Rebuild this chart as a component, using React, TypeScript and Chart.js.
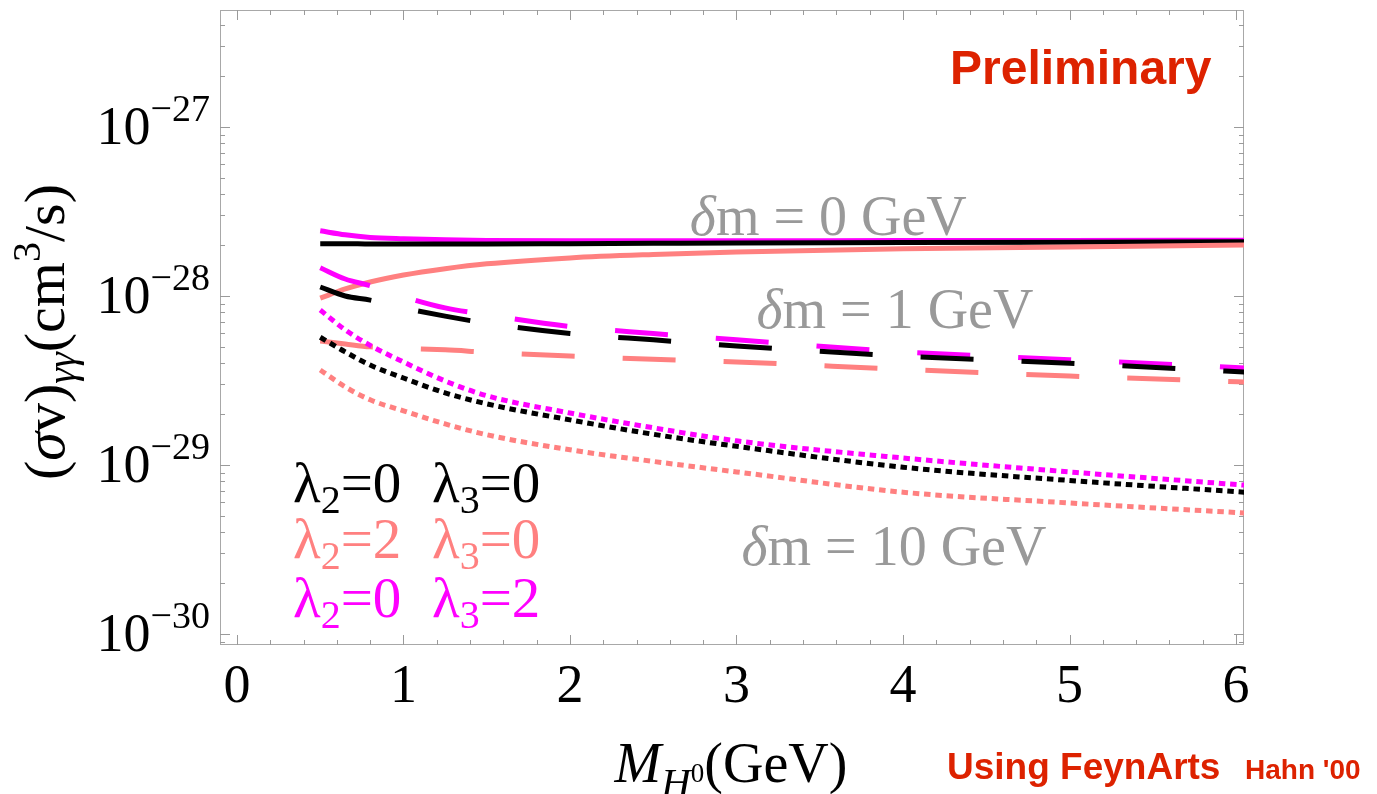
import React, { useEffect, useRef } from "react";
import { Chart, registerables } from "chart.js";
Chart.register(...registerables);

// ---------- data ----------
const massGeV = [0.5, 0.65, 0.8, 1.0, 1.25, 1.5, 2.0, 2.5, 3.0, 4.0, 5.0, 6.05];

// δm = 0 GeV (solid)
const solidL00 = [2.04e-28, 2.04e-28, 2.03e-28, 2.03e-28, 2.03e-28, 2.03e-28, 2.04e-28, 2.05e-28, 2.06e-28, 2.07e-28, 2.08e-28, 2.09e-28];
const solidL20 = [0.97e-28, 1.1e-28, 1.21e-28, 1.33e-28, 1.45e-28, 1.55e-28, 1.68e-28, 1.76e-28, 1.82e-28, 1.9e-28, 1.95e-28, 2.0e-28];
const solidL32 = [2.43e-28, 2.3e-28, 2.22e-28, 2.18e-28, 2.15e-28, 2.13e-28, 2.12e-28, 2.12e-28, 2.12e-28, 2.13e-28, 2.13e-28, 2.14e-28];

// δm = 1 GeV (dashed)
const dashL00 = [1.13e-28, 1.0e-28, 9.45e-29, 8.5e-29, 7.6e-29, 6.9e-29, 6.0e-29, 5.5e-29, 5.06e-29, 4.41e-29, 4.0e-29, 3.55e-29];
const dashL20 = [5.42e-29, 5.2e-29, 5.0e-29, 4.9e-29, 4.8e-29, 4.65e-29, 4.41e-29, 4.22e-29, 4.07e-29, 3.68e-29, 3.36e-29, 3.1e-29];
const dashL32 = [1.47e-28, 1.26e-28, 1.15e-28, 9.9e-29, 8.5e-29, 7.75e-29, 6.6e-29, 6.0e-29, 5.5e-29, 4.67e-29, 4.2e-29, 3.75e-29];

// δm = 10 GeV (dotted)
const dotL00 = [5.7e-29, 4.67e-29, 3.9e-29, 3.27e-29, 2.67e-29, 2.3e-29, 1.85e-29, 1.52e-29, 1.29e-29, 9.7e-30, 8.1e-30, 6.9e-30];
const dotL20 = [3.65e-29, 2.9e-29, 2.43e-29, 2.09e-29, 1.75e-29, 1.51e-29, 1.23e-29, 1.05e-29, 9.1e-30, 6.9e-30, 5.96e-30, 5.2e-30];
const dotL32 = [8.26e-29, 6.3e-29, 5.1e-29, 4.07e-29, 3.14e-29, 2.57e-29, 2.03e-29, 1.66e-29, 1.39e-29, 1.1e-29, 9.1e-30, 7.6e-30];

const xTickLabels = ["0", "1", "2", "3", "4", "5", "6"];
const yTickExponents = [-30, -29, -28, -27];

const deltaLabels = ["δm = 0 GeV", "δm = 1 GeV", "δm = 10 GeV"];
const deltaLabelX = [2.72, 3.12, 3.03];
const deltaLabelY = [2.3e-28, 6.47e-29, 2.56e-30];

const legendL2 = ["0", "2", "0"];
const legendL3 = ["0", "0", "2"];

const BLACK = "#000000";
const SALMON = "#FF8080";
const MAGENTA = "#FF00FF";
const legendColors = [BLACK, SALMON, MAGENTA];

const SERIF = '"Liberation Serif", "DejaVu Serif", serif';
const SANS = '"Liberation Sans", Arial, sans-serif';

type Part = { t: string; size: number; italic?: boolean; dy?: number };

function setFont(ctx: CanvasRenderingContext2D, p: Part) {
  ctx.font = `${p.italic ? "italic " : ""}${p.size}px ${SERIF}`;
}
function richWidth(ctx: CanvasRenderingContext2D, parts: Part[]) {
  let w = 0;
  for (const p of parts) {
    setFont(ctx, p);
    w += ctx.measureText(p.t).width;
  }
  return w;
}
function drawRich(ctx: CanvasRenderingContext2D, parts: Part[], x: number, y: number, align: "left" | "center" | "right") {
  const w = richWidth(ctx, parts);
  let cx = align === "left" ? x : align === "center" ? x - w / 2 : x - w;
  ctx.textAlign = "left";
  ctx.textBaseline = "alphabetic";
  for (const p of parts) {
    setFont(ctx, p);
    ctx.fillText(p.t, cx, y + (p.dy || 0));
    cx += ctx.measureText(p.t).width;
  }
}

const framePlugin = {
  id: "mmaFrame",
  beforeDatasetsDraw(chart: any) {
    const { ctx, chartArea: a, scales } = chart;
    const xs = scales.x;
    const ys = scales.y;
    ctx.save();
    ctx.strokeStyle = "#a8a8a8";
    ctx.lineWidth = 1;
    ctx.strokeRect(a.left + 0.5, a.top + 0.5, a.right - a.left - 1, a.bottom - a.top - 1);
    ctx.strokeStyle = "#9a9a9a";
    // x ticks
    for (let i = 0; i <= 30; i++) {
      const v = i * 0.2;
      if (v < xs.min || v > xs.max) continue;
      const px = Math.round(xs.getPixelForValue(v)) + 0.5;
      const len = i % 5 === 0 ? 10 : 5;
      ctx.beginPath();
      ctx.moveTo(px, a.bottom);
      ctx.lineTo(px, a.bottom - len);
      ctx.moveTo(px, a.top);
      ctx.lineTo(px, a.top + len);
      ctx.stroke();
    }
    // y ticks
    for (let d = -31; d <= -26; d++) {
      for (let m = 1; m <= 9; m++) {
        const v = m * Math.pow(10, d);
        if (v < ys.min || v > ys.max) continue;
        const py = Math.round(ys.getPixelForValue(v)) + 0.5;
        const len = m === 1 ? 10 : 5;
        ctx.beginPath();
        ctx.moveTo(a.left, py);
        ctx.lineTo(a.left + len, py);
        ctx.moveTo(a.right, py);
        ctx.lineTo(a.right - len, py);
        ctx.stroke();
      }
    }
    ctx.restore();
  },
  afterDraw(chart: any) {
    const { ctx, chartArea: a, scales } = chart;
    const xs = scales.x;
    const ys = scales.y;
    ctx.save();
    ctx.fillStyle = "#000";
    // x tick labels
    xTickLabels.forEach((lab, i) => {
      const px = xs.getPixelForValue(i);
      drawRich(ctx, [{ t: lab, size: 54 }], px, a.bottom + 57, "center");
    });
    // y tick labels
    yTickExponents.forEach((e) => {
      const py = ys.getPixelForValue(Math.pow(10, e));
      drawRich(
        ctx,
        [
          { t: "10", size: 54, dy: 17 },
          { t: "\u2212" + String(-e), size: 38, dy: -6 },
        ],
        210,
        py,
        "right"
      );
    });
    // x title
    drawRich(
      ctx,
      [
        { t: "M", size: 56, italic: true },
        { t: "H", size: 41, italic: true, dy: 14 },
        { t: "0", size: 27, dy: 0 },
        { t: "(GeV)", size: 56 },
      ],
      731,
      782,
      "center"
    );
    // y title
    ctx.save();
    ctx.translate(46, 332);
    ctx.rotate(-Math.PI / 2);
    drawRich(
      ctx,
      [
        { t: "(", size: 58 },
        { t: "σ", size: 58, italic: true },
        { t: "v)", size: 58 },
        { t: "γγ", size: 40, italic: true, dy: 11 },
        { t: "(cm", size: 58 },
        { t: "3", size: 40, dy: -24 },
        { t: "/s)", size: 58 },
      ],
      0,
      18,
      "center"
    );
    ctx.restore();
    // δm labels
    ctx.fillStyle = "#999999";
    deltaLabels.forEach((lab, i) => {
      const px = xs.getPixelForValue(deltaLabelX[i]);
      const py = ys.getPixelForValue(deltaLabelY[i]);
      drawRich(ctx, [{ t: "δ", size: 56, italic: true }, { t: lab.slice(1), size: 56 }], px, py, "left");
    });
    // legend
    const rowY = [502, 558, 617];
    legendColors.forEach((c, i) => {
      ctx.fillStyle = c;
      drawRich(ctx, [{ t: "λ", size: 57 }, { t: "2", size: 40, dy: 11 }, { t: "=" + legendL2[i], size: 57 }], 293, rowY[i], "left");
      drawRich(ctx, [{ t: "λ", size: 57 }, { t: "3", size: 40, dy: 11 }, { t: "=" + legendL3[i], size: 57 }], 432, rowY[i], "left");
    });
    // red notes
    ctx.fillStyle = "#DD2200";
    ctx.textAlign = "left";
    ctx.textBaseline = "alphabetic";
    ctx.font = `bold 48px ${SANS}`;
    ctx.fillText("Preliminary", 950, 84);
    ctx.font = `bold 37px ${SANS}`;
    ctx.fillText("Using FeynArts", 947, 779);
    ctx.font = `bold 28px ${SANS}`;
    ctx.fillText("Hahn '00", 1245, 779);
    ctx.restore();
  },
};

function series(values: number[]) {
  return massGeV.map((x, i) => ({ x, y: values[i] }));
}

export default function App() {
  const ref = useRef<HTMLCanvasElement | null>(null);
  useEffect(() => {
    if (!ref.current) return;
    const mk = (label: string, vals: number[], color: string, dash: number[]) => ({
      label,
      data: series(vals),
      borderColor: color,
      backgroundColor: color,
      borderWidth: 5,
      borderDash: dash,
      borderCapStyle: "butt" as const,
      pointRadius: 0,
      cubicInterpolationMode: "monotone" as const,
      fill: false,
    });
    const chart = new Chart(ref.current, {
      type: "line",
      data: {
        datasets: [
          mk("dot λ2=2", dotL20, SALMON, [6.5, 4.8]),
          mk("dot λ2=0 λ3=0", dotL00, BLACK, [6.5, 4.8]),
          mk("dot λ3=2", dotL32, MAGENTA, [6.5, 4.8]),
          mk("dash λ2=2", dashL20, SALMON, [53, 48]),
          mk("dash λ2=0 λ3=0", dashL00, BLACK, [53, 48]),
          mk("dash λ3=2", dashL32, MAGENTA, [53, 48]),
          mk("solid λ2=2", solidL20, SALMON, []),
          mk("solid λ2=0 λ3=0", solidL00, BLACK, []),
          mk("solid λ3=2", solidL32, MAGENTA, []),
        ],
      },
      options: {
        animation: false,
        responsive: false,
        maintainAspectRatio: false,
        layout: { padding: { left: 220, top: 10, right: 133, bottom: 149 } },
        plugins: { legend: { display: false }, tooltip: { enabled: false } },
        scales: {
          x: { type: "linear", min: -0.102, max: 6.048, display: false },
          y: { type: "logarithmic", min: Math.pow(10, -30.065), max: Math.pow(10, -26.308), display: false },
        },
      },
      plugins: [framePlugin],
    });
    return () => chart.destroy();
  }, []);
  return (
    <div style={{ position: "fixed", left: 0, top: 0, width: 1377, height: 794, background: "#fff" }}>
      <canvas ref={ref} width={1377} height={794} style={{ width: 1377, height: 794, display: "block" }} />
    </div>
  );
}
